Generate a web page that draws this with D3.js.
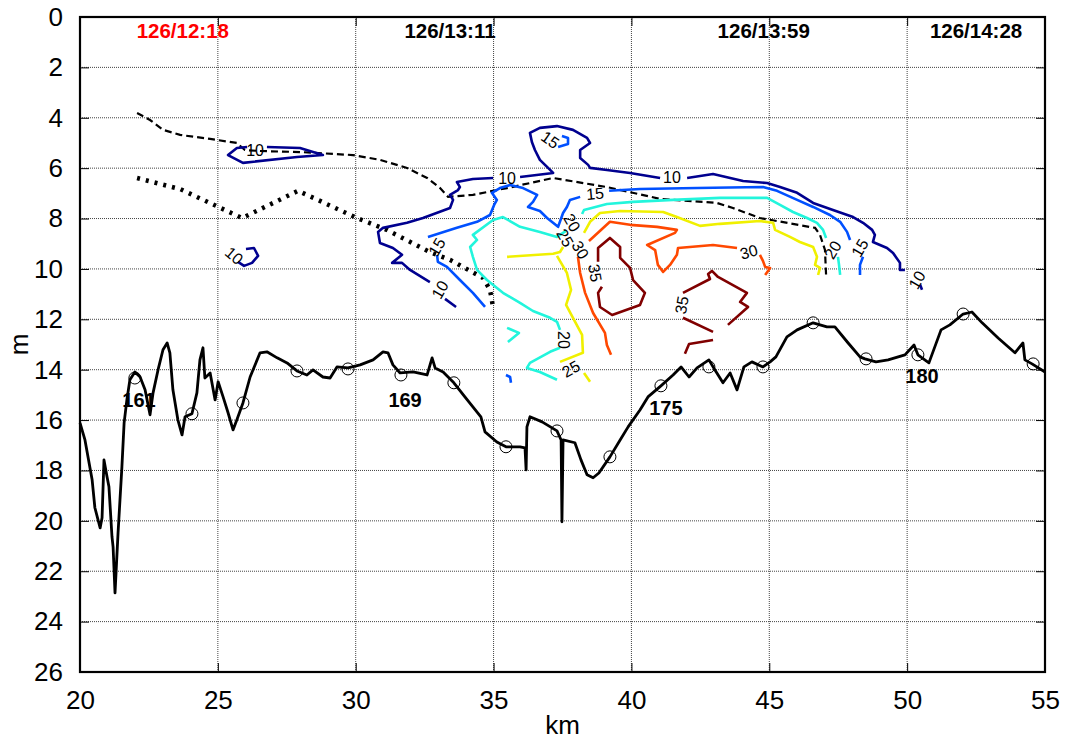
<!DOCTYPE html>
<html>
<head>
<meta charset="utf-8">
<script src="https://cdn.jsdelivr.net/npm/d3@7"></script>
<style>
  body { margin: 0; background: #fff; }
  svg { font-family: "Liberation Sans", Arial, sans-serif; }
</style>
</head>
<body>
<div id="wrapper"></div>
<script>
// bottom profile along the track (km, depth m)
const bottom = [
  [20.00,16.11],[20.18,16.79],[20.44,18.37],[20.54,19.48],[20.73,20.28],[20.80,19.88],[20.87,17.58],
  [20.98,18.25],[21.05,18.65],[21.16,20.63],[21.20,21.03],[21.27,22.86],[21.38,20.48],[21.45,19.17],
  [21.52,17.86],[21.60,16.11],[21.70,15.20],[21.81,14.40],[21.99,14.09],[22.18,14.29],[22.36,14.80],
  [22.54,15.79],[22.65,14.92],[22.83,14.01],[23.01,13.21],[23.16,12.94],[23.26,13.33],[23.37,14.80],
  [23.55,15.99],[23.70,16.59],[23.81,15.87],[24.06,15.75],[24.24,14.92],[24.35,13.61],[24.46,13.13],
  [24.53,14.33],[24.72,14.13],[24.90,15.20],[25.01,14.48],[25.19,15.08],[25.37,15.71],[25.55,16.39],
  [25.69,15.99],[25.91,15.32],[26.17,14.29],[26.53,13.33],[26.78,13.29],[27.15,13.53],[27.51,13.73],
  [27.87,14.05],[28.23,14.21],[28.45,14.01],[28.81,14.29],[29.07,14.33],[29.32,13.89],[29.72,13.93],
  [30.16,13.81],[30.63,13.61],[30.99,13.29],[31.17,13.33],[31.35,13.81],[31.61,14.13],[32.08,14.09],
  [32.59,14.21],[32.77,13.53],[32.88,13.93],[33.17,14.09],[33.56,14.52],[33.96,15.08],[34.54,15.87],
  [34.69,16.47],[35.12,16.87],[35.45,17.06],[35.96,17.06],[36.14,17.10],[36.18,17.98],[36.21,16.27],
  [36.32,15.87],[36.76,16.07],[37.30,16.43],[37.45,16.79],[37.48,20.04],[37.52,16.79],[37.95,16.90],
  [38.17,17.58],[38.39,18.17],[38.61,18.29],[38.82,18.10],[39.22,17.46],[39.59,16.79],[39.88,16.27],
  [40.31,15.60],[40.60,15.08],[41.07,14.64],[41.51,14.21],[41.80,13.89],[42.09,14.29],[42.38,13.93],
  [42.81,13.61],[43.03,14.01],[43.32,14.52],[43.58,14.13],[43.83,14.80],[44.08,13.89],[44.37,13.69],
  [44.77,13.89],[45.03,13.69],[45.24,13.49],[45.64,12.70],[46.01,12.42],[46.59,12.14],[47.09,12.30],
  [47.38,12.30],[47.86,12.94],[48.29,13.49],[48.47,13.57],[48.87,13.69],[49.31,13.61],[49.92,13.41],
  [50.25,13.02],[50.39,13.41],[50.79,13.73],[51.23,12.42],[51.55,12.22],[52.03,11.79],[52.35,11.71],
  [52.72,12.14],[53.30,12.74],[53.91,13.33],[54.20,12.94],[54.27,13.61],[54.53,13.77],[55.00,14.09]
];

// station markers on the bottom
const stationMarks = [
  [21.99,14.33],[24.06,15.75],[25.91,15.32],[27.87,14.05],[29.72,13.97],[31.64,14.21],[33.56,14.52],
  [35.45,17.06],[37.30,16.43],[39.22,17.46],[41.07,14.64],[42.81,13.89],[44.77,13.89],[46.59,12.14],
  [48.51,13.57],[50.39,13.41],[52.03,11.79],[54.57,13.77]
];
const stationNames = ["161", "169", "175", "180"];
const stationNameKm = [22.14, 31.79, 41.25, 50.54];
const stationNameDepth = [15.48, 15.48, 15.79, 14.52];

// time stamps along the top
const timeLabels = ["126/12:18", "126/13:11", "126/13:59", "126/14:28"];
const timeKm = [23.73, 33.42, 44.8, 52.5];

// dashed and dotted reference lines
const dashedLine = [
  [22.07,3.81],[22.54,4.09],[23.01,4.48],[23.63,4.68],[24.72,4.84],[25.69,5.00],[25.98,5.28],[26.53,5.32],
  [27.98,5.36],[29.90,5.48],[30.88,5.67],[31.86,5.99],[32.59,6.39],[33.06,6.79],[33.35,7.14],[34.25,7.06],
  [35.49,6.79],[37.16,6.39],[39.11,6.75],[41.04,7.22],[43.10,7.38],[43.68,7.58],[44.66,7.98],[45.28,8.10],
  [46.66,8.37],[46.84,8.65],[47.02,9.25],[47.06,10.24]
];
const dottedLine = [
  [22.07,6.39],[23.63,6.83],[25.88,7.98],[27.91,6.90],[30.05,7.98],[31.13,8.45],[32.69,9.33],[33.42,9.64],
  [34.62,10.36],[34.87,10.83],[34.98,11.51]
];

// contour segments per level
const levels = [10, 15, 20, 25, 30, 35];
const levelColors = ["#00008f", "#0050ff", "#22f5dc", "#f0f000", "#ff4800", "#800000"];

const c10 = [
  [[26.06,5.16],[25.69,5.20],[25.37,5.48],[25.91,5.79],[27.87,5.56],[28.81,5.48],[27.98,5.20],[26.78,5.16]],
  [[26.02,9.21],[26.31,9.17],[26.46,9.48],[26.24,9.76],[25.95,9.88],[25.73,9.72]],
  [[33.24,11.19],[33.64,11.51]],
  [[32.69,10.52],[31.97,10.04],[31.68,9.76],[31.32,9.76],[31.68,9.44],[31.35,9.17],[30.88,8.97],[30.81,8.53],
   [30.99,8.37],[31.86,8.17],[32.44,7.98],[33.42,7.58],[33.53,7.26],[33.42,7.06],[33.71,6.87],[33.78,6.75],
   [33.67,6.55],[34.25,6.43],[34.98,6.39]],
  [[35.96,6.35],[37.16,6.19],[36.94,5.95],[36.68,5.67],[36.50,5.28],[36.39,4.96],[36.32,4.60],[36.68,4.40],
   [37.30,4.33],[37.88,4.48],[38.39,4.80],[38.50,5.00],[38.14,5.28],[38.14,5.60],[38.43,5.87],[38.50,5.99],
   [39.11,6.07],[39.95,6.19],[41.04,6.39]],
  [[42.02,6.39],[42.96,6.23],[44.05,6.51],[44.92,6.59],[45.39,6.75],[46.01,6.98],[46.59,7.38],[47.31,7.66],
   [48.04,7.94],[48.40,8.17],[48.73,8.45],[48.83,8.65],[48.76,8.93],[49.27,9.17],[49.49,9.37],[49.74,9.76],
   [49.74,10.04],[49.92,10.04]],
  [[50.47,10.63],[50.54,10.83]]
];
const c15 = [
  [[37.48,4.72],[37.70,4.80],[37.70,5.04],[37.34,5.16]],
  [[34.69,11.51],[34.25,10.95],[33.78,10.44],[33.31,9.92],[32.98,9.72],[32.95,9.44]],
  [[32.62,8.73],[33.67,8.37],[34.40,8.13],[34.87,7.86],[35.02,7.46],[35.12,7.26],[34.94,6.98],[35.23,6.79],
   [35.60,6.67],[36.07,6.79],[36.58,7.06],[36.43,7.34],[36.25,7.54],[36.68,7.70],[36.94,7.98],[37.34,8.33],
   [37.52,7.78],[37.66,7.54],[37.77,7.26],[38.14,7.14]],
  [[39.19,6.90],[40.31,6.83],[42.38,6.79],[44.77,6.75],[45.28,6.90],[46.01,7.26],[46.59,7.54],[47.20,7.86],
   [47.57,8.13],[47.82,8.53],[47.93,8.85]],
  [[48.40,9.52],[48.29,9.84],[48.29,10.24]],
  [[35.45,14.21],[35.60,14.29],[35.63,14.52]]
];
const c20 = [
  [[37.63,8.49],[37.30,8.73],[36.68,8.53],[35.96,8.33],[35.34,7.94],[34.98,8.06],[34.25,8.65],[34.40,8.85],
   [34.15,9.13],[34.25,9.52],[34.40,10.04],[34.76,10.44],[35.34,10.95],[35.96,11.35],[36.43,11.67],
   [37.05,11.94],[37.30,12.10],[37.41,12.42]],
  [[37.41,13.13],[37.05,13.29],[36.32,13.73],[36.21,13.93],[36.68,14.09],[37.30,14.40]],
  [[38.21,7.82],[38.28,7.66],[39.11,7.42],[40.06,7.34],[41.51,7.26],[43.21,7.18],[44.92,7.18],[45.39,7.46],
   [45.86,7.74],[46.37,7.98],[46.73,8.17],[46.95,8.45],[47.06,8.77]],
  [[47.49,9.52],[47.53,9.84],[47.57,10.24]],
  [[35.49,12.34],[35.92,12.54],[35.52,12.90]]
];
const c25 = [
  [[35.49,9.52],[37.16,9.40],[37.41,9.33],[37.52,9.13]],
  [[37.30,9.48],[37.66,10.16],[37.81,10.83],[37.63,11.43],[37.88,11.94],[38.21,12.62],[38.24,13.33],[37.41,13.69]],
  [[38.28,14.13],[38.50,14.48]],
  [[38.28,8.57],[38.50,8.13],[38.86,7.78],[39.59,7.70],[41.15,7.74],[41.65,7.94],[42.49,8.29],[43.21,8.21],
   [44.66,8.10],[45.14,8.17],[45.21,8.45],[45.75,8.73],[46.11,8.93],[46.59,9.13],[46.73,9.52],[46.66,9.84],
   [46.84,9.96],[46.77,10.24]]
];
const c30 = [
  [[38.06,9.52],[38.14,10.16],[38.32,10.95],[38.61,11.75],[39.04,12.54],[39.11,13.02],[39.26,13.41]],
  [[38.46,8.89],[39.22,8.13],[39.95,8.25],[40.93,8.33],[41.65,8.45],[41.58,8.57],[40.57,9.05],[40.86,9.25],
   [40.96,9.84],[41.15,10.12],[41.40,9.84],[41.65,9.44],[41.69,9.17],[42.96,9.05],[43.83,9.17]],
  [[44.66,9.44],[44.77,9.68],[44.85,9.92],[45.03,9.96],[44.85,10.24]]
];
const c35 = [
  [[38.79,9.72],[38.79,9.17],[39.22,8.77],[39.59,9.13],[39.59,9.56],[39.95,9.96],[40.06,10.44],[40.49,10.95],
   [40.31,11.43],[39.30,11.83],[38.86,11.51],[38.79,10.95],[38.93,10.71]],
  [[41.87,10.95],[42.85,10.40],[42.78,10.20],[42.92,10.08],[43.14,10.32],[44.19,10.95],[43.94,11.31],
   [44.23,11.51],[43.50,12.22]],
  [[41.87,11.94],[42.96,12.50]],
  [[41.94,13.37],[42.09,12.98],[42.96,12.82]]
];
const contours = [c10, c15, c20, c25, c30, c35];

// contour labels: text, km, depth, angle
const labelText = ["10","10","10","10","10","10","15","15","15","15","20","20","20","25","25","30","30","35","35"];
const labelKm = [26.35,25.59,33.06,35.49,41.47,50.36,37.05,32.95,38.68,48.29,37.84,37.52,47.31,37.59,37.81,38.14,44.26,38.68,41.83];
const labelDepth = [5.28,9.48,10.83,6.43,6.39,10.44,4.88,9.13,7.02,9.17,8.17,12.82,9.25,8.77,13.97,9.25,9.33,10.16,11.43];
const labelAngle = [0,40,-60,0,0,-60,35,-60,-5,-60,60,90,-60,60,-30,60,-15,80,-80];

const xTicks = [20, 25, 30, 35, 40, 45, 50, 55];
const yTicks = d3.range(0, 27, 2);

function drawChart() {
  const dimensions = {
    width: 1065,
    height: 743,
    margin: { top: 17, right: 20, bottom: 71, left: 80 },
  };
  dimensions.boundWidth = dimensions.width - dimensions.margin.left - dimensions.margin.right;
  dimensions.boundHeight = dimensions.height - dimensions.margin.top - dimensions.margin.bottom;

  const wrapper = d3.select('#wrapper')
    .append('svg')
    .attr('width', dimensions.width)
    .attr('height', dimensions.height);
  const bounds = wrapper.append('g')
    .attr('transform', `translate(${dimensions.margin.left},${dimensions.margin.top})`);

  const xScale = d3.scaleLinear().domain([20, 55]).range([0, dimensions.boundWidth]);
  const yScale = d3.scaleLinear().domain([0, 26]).range([0, dimensions.boundHeight]);

  // grid
  const grid = bounds.append('g')
    .attr('stroke', '#444')
    .attr('stroke-width', 1)
    .attr('stroke-dasharray', '1,1');
  grid.selectAll('.gx').data(xTicks.slice(1, -1)).join('line')
    .attr('x1', d => xScale(d)).attr('x2', d => xScale(d))
    .attr('y1', 0).attr('y2', dimensions.boundHeight);
  grid.selectAll('.gy').data(yTicks.slice(1, -1)).join('line')
    .attr('y1', d => yScale(d)).attr('y2', d => yScale(d))
    .attr('x1', 0).attr('x2', dimensions.boundWidth);

  const line = d3.line().x(d => xScale(d[0])).y(d => yScale(d[1]));

  // dashed & dotted lines
  bounds.append('path').datum(dashedLine)
    .attr('d', line).attr('fill', 'none').attr('stroke', '#000')
    .attr('stroke-width', 2.2).attr('stroke-dasharray', '7,4');
  bounds.append('path').datum(dottedLine)
    .attr('d', line).attr('fill', 'none').attr('stroke', '#000')
    .attr('stroke-width', 4.5).attr('stroke-dasharray', '3,6');

  // contours
  contours.forEach((segs, i) => {
    bounds.append('g').selectAll('path').data(segs).join('path')
      .attr('d', line)
      .attr('fill', 'none')
      .attr('stroke', levelColors[i])
      .attr('stroke-width', 2.6)
      .attr('stroke-linejoin', 'round');
  });

  bounds.append('g').selectAll('text').data(labelText).join('text')
    .attr('transform', (d, i) => `translate(${xScale(labelKm[i])},${yScale(labelDepth[i])}) rotate(${labelAngle[i]})`)
    .attr('text-anchor', 'middle')
    .attr('dominant-baseline', 'central')
    .style('font-size', '16px')
    .attr('fill', '#000')
    .text(d => d);

  // bottom
  bounds.append('path').datum(bottom)
    .attr('d', line).attr('fill', 'none').attr('stroke', '#000')
    .attr('stroke-width', 2.8).attr('stroke-linejoin', 'round');
  bounds.append('g').selectAll('circle').data(stationMarks).join('circle')
    .attr('cx', d => xScale(d[0])).attr('cy', d => yScale(d[1]))
    .attr('r', 6).attr('fill', 'none').attr('stroke', '#000').attr('stroke-width', 1);

  bounds.append('g').selectAll('text').data(stationNames).join('text')
    .attr('x', (d, i) => xScale(stationNameKm[i]))
    .attr('y', (d, i) => yScale(stationNameDepth[i]))
    .attr('text-anchor', 'middle')
    .style('font-size', '20px').style('font-weight', 'bold')
    .text(d => d);

  bounds.append('g').selectAll('text').data(timeLabels).join('text')
    .attr('x', (d, i) => xScale(timeKm[i]))
    .attr('y', 21)
    .attr('text-anchor', 'middle')
    .attr('fill', (d, i) => i === 0 ? '#ff0000' : '#000')
    .style('font-size', '20.5px').style('font-weight', 'bold')
    .text(d => d);

  // axes (inner ticks, MATLAB style)
  const xAxisBottom = d3.axisBottom(xScale).tickValues(xTicks).tickSize(-9).tickPadding(19);
  const xAxisTop = d3.axisTop(xScale).tickValues(xTicks).tickSize(-9).tickFormat('');
  const yAxisLeft = d3.axisLeft(yScale).tickValues(yTicks).tickSize(-9).tickPadding(17);
  const yAxisRight = d3.axisRight(yScale).tickValues(yTicks).tickSize(-9).tickFormat('');

  const axes = [
    bounds.append('g').attr('transform', `translate(0,${dimensions.boundHeight})`).call(xAxisBottom),
    bounds.append('g').call(xAxisTop),
    bounds.append('g').call(yAxisLeft),
    bounds.append('g').attr('transform', `translate(${dimensions.boundWidth},0)`).call(yAxisRight),
  ];
  axes.forEach(a => {
    a.select('.domain').remove();
    a.selectAll('.tick line').attr('stroke', '#000').attr('stroke-width', 1);
    a.selectAll('.tick text').attr('fill', '#000')
      .style('font-family', '"Liberation Sans", Arial, sans-serif')
      .style('font-size', '26px');
  });

  bounds.append('rect')
    .attr('width', dimensions.boundWidth).attr('height', dimensions.boundHeight)
    .attr('fill', 'none').attr('stroke', '#000').attr('stroke-width', 2.2);

  wrapper.append('text')
    .attr('x', dimensions.margin.left + dimensions.boundWidth / 2)
    .attr('y', 734)
    .attr('text-anchor', 'middle')
    .style('font-size', '26px')
    .text('km');
  wrapper.append('text')
    .attr('transform', `translate(28,${dimensions.margin.top + dimensions.boundHeight / 2}) rotate(-90)`)
    .attr('text-anchor', 'middle')
    .style('font-size', '26px')
    .text('m');
}
drawChart();
</script>
</body>
</html>
